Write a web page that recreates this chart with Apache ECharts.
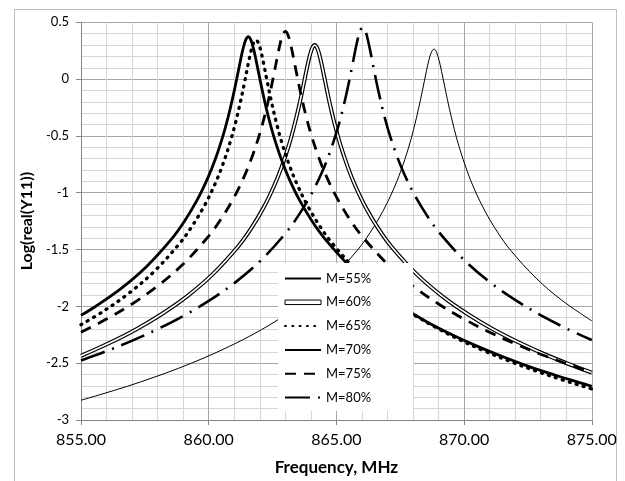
<!DOCTYPE html>
<html><head><meta charset="utf-8">
<script src="https://cdn.jsdelivr.net/npm/echarts@6/dist/echarts.min.js"></script>
<style>html,body{margin:0;padding:0;background:#fff}#c{width:625px;height:481px}</style>
</head><body><div id="c"></div>
<script>
// Series names (legend labels)
const seriesNames = ['M=55%', 'M=60%', 'M=65%', 'M=70%', 'M=75%', 'M=80%'];
// Axis ticks
const xMin = 855, xMax = 875, xStep = 5;
const yMin = -3, yMax = 0.5, yStep = 0.5;

// Frequency (MHz) / Log(real(Y11))
const f55 = [855.00,855.82,856.82,857.82,858.82,859.82,860.82,861.82,862.82,863.82,864.82,865.82,866.32,866.82,867.22,867.52,867.82,868.02,868.22,868.37,868.52,868.62,868.72,868.82,868.92,869.02,869.12,869.27,869.42,869.62,869.82,870.12,870.42,870.82,871.32,871.82,872.82,873.82,875.00];
const v55 = [-2.826,-2.772,-2.703,-2.627,-2.545,-2.453,-2.351,-2.236,-2.102,-1.945,-1.752,-1.506,-1.351,-1.163,-0.978,-0.810,-0.607,-0.445,-0.256,-0.098,0.066,0.166,0.238,0.265,0.238,0.166,0.066,-0.098,-0.256,-0.445,-0.607,-0.810,-0.978,-1.163,-1.351,-1.506,-1.752,-1.945,-2.128];

const f60 = [855.00,856.15,857.15,858.15,859.15,860.15,861.15,861.65,862.15,862.55,862.85,863.15,863.35,863.55,863.70,863.85,863.95,864.05,864.15,864.25,864.35,864.45,864.60,864.75,864.95,865.15,865.45,865.75,866.15,866.65,867.15,868.15,869.15,870.15,871.15,872.15,873.15,874.15,875.00];
const v60 = [-2.435,-2.318,-2.203,-2.069,-1.912,-1.719,-1.473,-1.318,-1.130,-0.945,-0.777,-0.574,-0.411,-0.223,-0.064,0.101,0.200,0.273,0.300,0.273,0.200,0.101,-0.064,-0.223,-0.411,-0.574,-0.777,-0.945,-1.130,-1.318,-1.473,-1.719,-1.912,-2.069,-2.203,-2.318,-2.421,-2.512,-2.583];

const f65 = [855.00,855.85,856.85,857.85,858.85,859.35,859.85,860.25,860.55,860.85,861.05,861.25,861.40,861.55,861.65,861.75,861.85,861.95,862.05,862.15,862.30,862.45,862.65,862.85,863.15,863.45,863.85,864.35,864.85,865.85,866.85,867.85,868.85,869.85,870.85,871.85,872.85,873.85,874.85,875.00];
const v65 = [-2.161,-2.047,-1.889,-1.696,-1.449,-1.294,-1.106,-0.921,-0.753,-0.548,-0.384,-0.193,-0.032,0.137,0.240,0.316,0.345,0.316,0.240,0.137,-0.032,-0.193,-0.384,-0.548,-0.753,-0.921,-1.106,-1.294,-1.449,-1.696,-1.889,-2.047,-2.180,-2.296,-2.398,-2.489,-2.572,-2.647,-2.717,-2.727];

const f70 = [855.00,855.55,856.55,857.55,858.55,859.05,859.55,859.95,860.25,860.55,860.75,860.95,861.10,861.25,861.35,861.45,861.55,861.65,861.75,861.85,862.00,862.15,862.35,862.55,862.85,863.15,863.55,864.05,864.55,865.55,866.55,867.55,868.55,869.55,870.55,871.55,872.55,873.55,874.55,875.00];
const v70 = [-2.079,-2.003,-1.846,-1.653,-1.406,-1.251,-1.063,-0.878,-0.710,-0.506,-0.344,-0.154,0.005,0.171,0.272,0.345,0.373,0.345,0.272,0.171,0.005,-0.154,-0.344,-0.506,-0.710,-0.878,-1.063,-1.251,-1.406,-1.653,-1.846,-2.003,-2.137,-2.252,-2.354,-2.446,-2.530,-2.604,-2.673,-2.703];

const f75 = [855.00,856.00,857.00,858.00,859.00,860.00,860.50,861.00,861.40,861.70,862.00,862.20,862.40,862.55,862.70,862.80,862.90,863.00,863.10,863.20,863.30,863.45,863.60,863.80,864.00,864.30,864.60,865.00,865.50,866.00,867.00,868.00,869.00,870.00,871.00,872.00,873.00,874.00,875.00];
const v75 = [-2.228,-2.112,-1.979,-1.821,-1.628,-1.381,-1.226,-1.037,-0.852,-0.684,-0.479,-0.315,-0.123,0.040,0.210,0.314,0.391,0.420,0.391,0.314,0.210,0.040,-0.123,-0.315,-0.479,-0.684,-0.852,-1.037,-1.226,-1.381,-1.628,-1.821,-1.979,-2.112,-2.228,-2.330,-2.421,-2.504,-2.579];

const f80 = [855.00,856.03,857.03,858.03,859.03,860.03,861.03,862.03,863.03,863.53,864.03,864.43,864.73,865.03,865.23,865.43,865.58,865.73,865.83,865.93,866.03,866.13,866.23,866.33,866.48,866.63,866.83,867.03,867.33,867.63,868.03,868.53,869.03,870.03,871.03,872.03,873.03,874.03,875.00];
const v80 = [-2.476,-2.391,-2.299,-2.197,-2.082,-1.948,-1.791,-1.598,-1.351,-1.195,-1.007,-0.822,-0.653,-0.448,-0.284,-0.091,0.072,0.243,0.348,0.426,0.455,0.426,0.348,0.243,0.072,-0.091,-0.284,-0.448,-0.653,-0.822,-1.007,-1.195,-1.351,-1.598,-1.791,-1.948,-2.082,-2.197,-2.296];

function pairs(f, v) { return f.map((x, i) => [x, v[i]]); }

const FONT = 'Lato, "Noto Sans", sans-serif';
const AX = '#868686';

function lineSeries(name, f, v, ls, z) {
  return {
    type: 'line', name: name, data: pairs(f, v), symbol: 'none', showSymbol: false,
    smooth: 0.35, z: z || 2, silent: true,
    lineStyle: Object.assign({ color: '#000' }, ls)
  };
}

const chart = echarts.init(document.getElementById('c'), null, { renderer: 'canvas' });
chart.setOption({
  animation: false,
  backgroundColor: '#fff',
  graphic: [{
    type: 'rect', left: 12, top: 7, z: -10, silent: true,
    shape: { x: 0.5, y: 0.5, width: 602, height: 490 },
    style: { fill: 'none', stroke: '#bfbfbf', lineWidth: 1 }
  }],
  grid: { left: 81, right: 33.2, top: 22.3, bottom: 60.8 },
  xAxis: {
    type: 'value', min: xMin, max: xMax, interval: xStep,
    name: 'Frequency, MHz', nameLocation: 'middle', nameGap: 39,
    nameTextStyle: { fontFamily: FONT, fontWeight: 'bold', fontSize: 17, color: '#000' },
    axisLine: { show: true, onZero: false, lineStyle: { color: AX, width: 1 } },
    axisTick: { show: true, inside: false, length: 5, lineStyle: { color: AX } },
    axisLabel: { margin: 12, fontFamily: FONT, fontSize: 16, color: '#000', formatter: v => v.toFixed(2) },
    splitLine: { show: true, lineStyle: { color: '#a6a6a6', width: 1 } },
    minorTick: { show: false, splitNumber: 5 },
    minorSplitLine: { show: true, lineStyle: { color: '#d6d6d6', width: 1 } }
  },
  yAxis: {
    type: 'value', min: yMin, max: yMax, interval: yStep,
    name: 'Log(real(Y11))', nameLocation: 'middle', nameGap: 40, nameRotate: 90,
    nameTextStyle: { fontFamily: FONT, fontWeight: 'bold', fontSize: 16, color: '#000' },
    axisLine: { show: true, lineStyle: { color: AX, width: 1 } },
    axisTick: { show: true, inside: false, length: 5, lineStyle: { color: AX } },
    axisLabel: { margin: 12, fontFamily: FONT, fontSize: 13, color: '#000' },
    splitLine: { show: true, lineStyle: { color: '#a6a6a6', width: 1 } },
    minorTick: { show: false, splitNumber: 5 },
    minorSplitLine: { show: true, lineStyle: { color: '#d6d6d6', width: 1 } }
  },
  legend: {
    orient: 'vertical', left: 278, top: 263,
    padding: [9, 42, 7, 6], itemGap: 10.8, itemWidth: 36, itemHeight: 14,
    backgroundColor: '#fff', z: 10,
    selectedMode: false,
    itemStyle: { opacity: 0 },
    textStyle: { fontFamily: FONT, fontSize: 13, color: '#000' },
    data: [
      { name: seriesNames[0] },
      { name: seriesNames[1], icon: 'path://M0,0H40V5H0Z', itemStyle: { color: '#fff', borderColor: '#000', borderWidth: 1, opacity: 1 } },
      { name: seriesNames[2] },
      { name: seriesNames[3] },
      { name: seriesNames[4] },
      { name: seriesNames[5] }
    ]
  },
  series: [
    lineSeries(seriesNames[0], f55, v55, { width: 1 }),
    lineSeries(seriesNames[1], f60, v60, { width: 4 }),
    lineSeries(seriesNames[1], f60, v60, { width: 1.6, color: '#fff' }),
    lineSeries(seriesNames[2], f65, v65, { width: 3.3, type: [1, 6.3], cap: 'round' }),
    lineSeries(seriesNames[3], f70, v70, { width: 2.8 }),
    lineSeries(seriesNames[4], f75, v75, { width: 2.8, type: [11, 8] }),
    lineSeries(seriesNames[5], f80, v80, { width: 2.6, type: [25, 8, 2, 8] })
  ]
});
</script></body></html>
